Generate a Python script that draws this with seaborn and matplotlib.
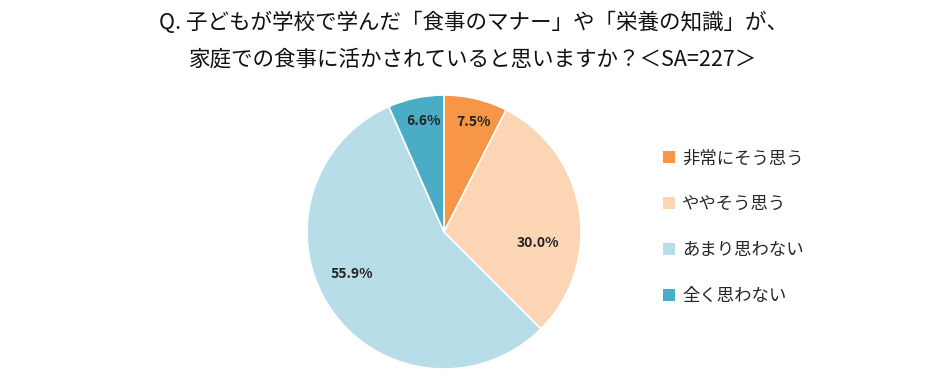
import seaborn as sns
from matplotlib import pyplot as plt
from matplotlib.patches import Patch
import numpy as np

# data
categories = ['非常にそう思う', 'ややそう思う', 'あまり思わない', '全く思わない']
shares = [7.5, 30.0, 55.9, 6.6]
colors = ['#F79646', '#FCD5B5', '#B7DEE8', '#4BACC6']
# label placement (distance from centre, angle offset from wedge middle)
label_dist = [0.83, 0.69, 0.74, 0.82]
label_shift = [-1.3, -15.7, -10.0, -1.6]

title = 'Q. 子どもが学校で学んだ「食事のマナー」や「栄養の知識」が、\n家庭での食事に活かされていると思いますか？＜SA=227＞'

sns.set_theme(style='white')
plt.rcParams['font.family'] = ['Noto Sans CJK JP', 'DejaVu Sans']

fig = plt.figure(figsize=(9.52, 3.85), dpi=100)
ax = fig.add_axes([0.3225, 0.0416, 0.2878, 0.7117])

wedges, texts, autotexts = ax.pie(shares, colors=colors, startangle=90, counterclock=False,
                                  autopct='%.1f%%', pctdistance=0.75,
                                  wedgeprops=dict(edgecolor='white', linewidth=1.2),
                                  textprops=dict(fontsize=10, fontweight='bold', color='#222222'))
# move the percentage labels
for w, t, d, s in zip(wedges, autotexts, label_dist, label_shift):
    ang = np.deg2rad((w.theta1 + w.theta2) / 2 + s)
    t.set_position((d * np.cos(ang), d * np.sin(ang)))
ax.set_xlim(-1, 1)
ax.set_ylim(-1, 1)
ax.set_aspect('equal')

fig.text(0.497, 0.97, title, ha='center', va='top', fontsize=15.5, linespacing=1.9, color='#111111')

handles = [Patch(facecolor=c, edgecolor='none') for c in colors]
fig.legend(handles, categories, loc='center left', bbox_to_anchor=(0.68, 0.41), frameon=False,
           fontsize=12.5, labelspacing=1.6, handlelength=0.7, handleheight=0.7, handletextpad=0.4)

fig.savefig('out.png', dpi=100, facecolor='white')
